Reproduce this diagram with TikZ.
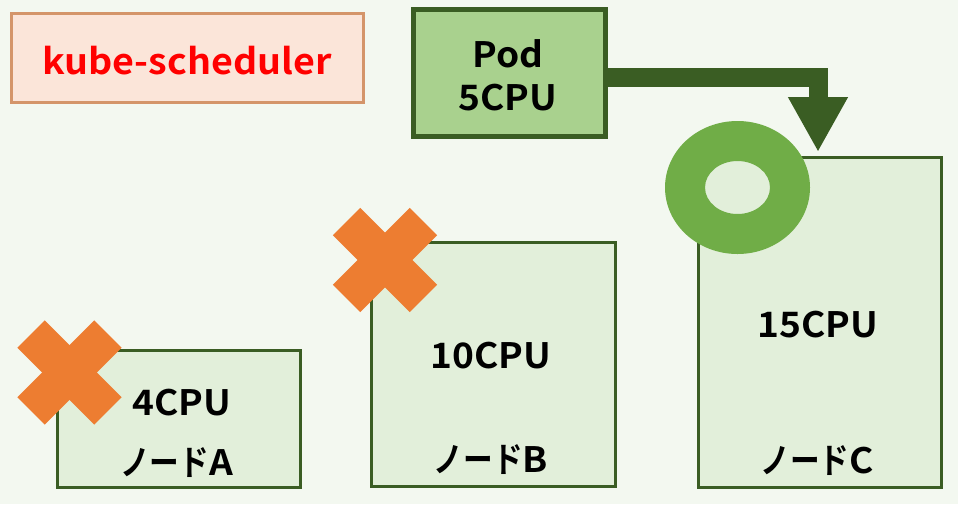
\documentclass[tikz,border=0pt]{standalone}
\usepackage{fontspec}
\newfontfamily\jpb{Noto Sans CJK JP Bold}[FakeStretch=1.06]
\usetikzlibrary{arrows.meta}
\definecolor{bgc}{HTML}{F3F8F0}
\definecolor{kubefill}{HTML}{FBE5D9}
\definecolor{kubeedge}{HTML}{D4956A}
\definecolor{podfill}{HTML}{A9D18E}
\definecolor{dkgreen}{HTML}{3A5D23}
\definecolor{nodefill}{HTML}{E2EFDA}
\definecolor{ringc}{HTML}{70AD47}
\definecolor{xorange}{HTML}{ED7D31}
\newcommand{\narrowjp}[1]{\scalebox{0.8}[1]{#1}}
\tikzset{
  box/.style={draw=dkgreen, line width=3pt, fill=nodefill, inner sep=0pt, rectangle},
  lbl/.style={font=\jpb\fontsize{35}{40}\selectfont, text=black, anchor=base, inner sep=0pt},
  xarm/.style={draw=xorange, line width=38.6pt, line cap=butt},
  flow/.style={draw=dkgreen, line width=19pt, line join=miter, -{Triangle[width=56pt,length=55pt]}}
}
\begin{document}
\begin{tikzpicture}[x=1pt,y=-1pt]
\fill[bgc] (0,0) rectangle (958,504);
\useasboundingbox (0,0) rectangle (958,504);
% kube-scheduler
\node[draw=kubeedge, line width=3pt, fill=kubefill, minimum width=352pt, minimum height=89pt, inner sep=0pt] (kube) at (187,57.5) {};
\node[lbl, text=red, font=\jpb\fontsize{35.5}{40}\selectfont] (kubet) at (187,74) {kube-scheduler};
% Pod
\node[draw=dkgreen, line width=5pt, fill=podfill, minimum width=192pt, minimum height=127pt, inner sep=0pt] (pod) at (509,72.5) {};
\node[lbl] (podt1) at (508,67) {Pod};
\node[lbl] (podt2) at (508,110) {5CPU};
% nodes
\node[box, minimum width=243pt, minimum height=137pt] (na) at (178.5,418.5) {};
\node[box, minimum width=244pt, minimum height=244pt] (nb) at (493,364) {};
\node[box, minimum width=243pt, minimum height=330pt] (nc) at (819.5,322) {};
\node[lbl] (na1) at (182,415) {4CPU};
\node[lbl] (na2) at (176.5,475) {\narrowjp{ノード}A};
\node[lbl] (nb1) at (491,368) {10CPU};
\node[lbl] (nb2) at (491,472) {\narrowjp{ノード}B};
\node[lbl] (nc1) at (818,337) {15CPU};
\node[lbl] (nc2) at (817,473) {\narrowjp{ノード}C};
% X marks
\foreach \cx/\cy in {69.5/372.5, 385/260}{
  \draw[xarm] (\cx-38.4,\cy-38.4) -- (\cx+38.4,\cy+38.4);
  \draw[xarm] (\cx-38.4,\cy+38.4) -- (\cx+38.4,\cy-38.4);
}
% ring
\fill[ringc, even odd rule] (737.5,187.5) ellipse [x radius=72.5pt, y radius=66.5pt]
  (737.5,187.5) ellipse [x radius=32.5pt, y radius=26.5pt];
% arrow
\coordinate (tipc) at (818,152);
\draw[flow] (pod.east |- 0,77.5) -| (tipc);
\end{tikzpicture}
\end{document}
